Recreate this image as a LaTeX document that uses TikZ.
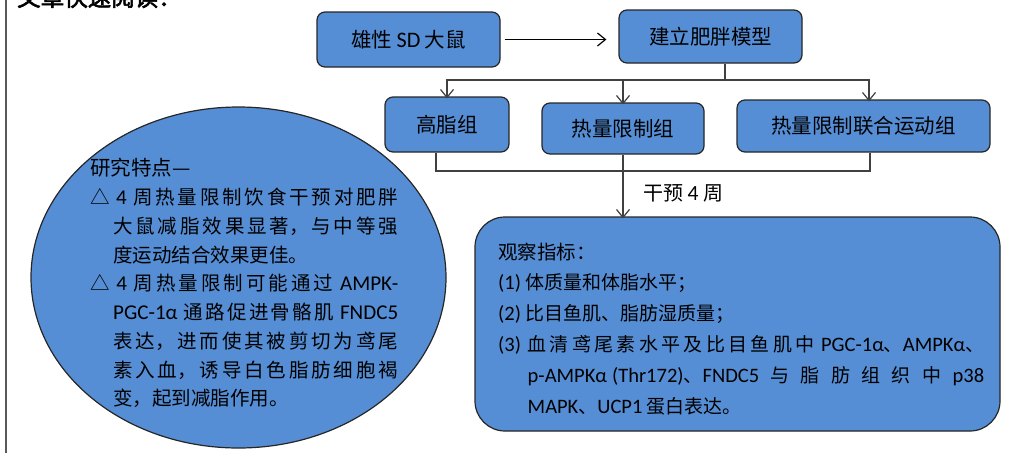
\documentclass[tikz,border=0pt]{standalone}
\usepackage{fontspec}
\setmainfont{Noto Sans CJK SC}
\newfontfamily\latf[Scale=1.08]{Carlito}
\newfontfamily\titlef[FakeBold=2.5]{Noto Sans CJK SC}
\newcommand\Lt[1]{{\latf #1}}
\XeTeXlinebreaklocale "zh"
\XeTeXlinebreakskip=0pt plus 3pt
\usetikzlibrary{arrows.meta,shapes.geometric}
\definecolor{boxblue}{RGB}{85,142,213}
\begin{document}
\begin{tikzpicture}[x=1pt,y=-1pt,
  box/.style={draw=black!85, line width=1.2pt, fill=boxblue, rounded corners=8pt, inner sep=0pt, font=\fontsize{20.5}{24}\selectfont},
  conn/.style={draw=black!75, line width=1.2pt},
  arr/.style={conn, -{Straight Barb[length=8pt,width=13pt]}},
  ln/.style={anchor=base west, inner sep=0pt},
]
\useasboundingbox (0,0) rectangle (1014,453);
\clip (0,0) rectangle (1014,453);

% cut title and frame line
\node[ln, font=\fontsize{23.5}{26}\titlef] (title) at (17,6) {文章快速阅读：};
\draw[conn, draw=black!65] (6,0) -- (6,453);

% boxes
\node[box, minimum width=183pt, minimum height=55pt] (b1) at (408.5,39.5) {雄性 \Lt{SD} 大鼠};
\node[box, minimum width=183pt, minimum height=53pt] (b2) at (710.5,36.5) {建立肥胖模型};
\node[box, minimum width=124pt, minimum height=55pt] (b3) at (447,124.5) {高脂组};
\node[box, minimum width=162pt, minimum height=51pt] (b4) at (623,128.5) {热量限制组};
\node[box, minimum width=253pt, minimum height=52pt] (b5) at (863.5,126) {热量限制联合运动组};
\node[box, rounded corners=30pt, minimum width=525pt, minimum height=214pt] (b6) at (737.5,324) {};
\node[ellipse, draw=black!85, line width=1.2pt, fill=boxblue, minimum width=415pt, minimum height=341pt, inner sep=0pt] (feat) at (238.5,277.5) {};

% connectors
\draw[arr, draw=black] ([xshift=4pt]b1.east) -- ([xshift=-12pt]b1.east -| b2.west);
\coordinate (j) at (725,80);
\draw[conn] (b2.south -| j) -- (j);
\draw[arr] (j) -| ([yshift=-2pt]b3.north);
\draw[arr] (j) -| ([xshift=5.5pt,yshift=-2pt]b5.north);
\draw[arr] (b4.north |- j) -- ([yshift=-2pt]b4.north);
\coordinate (k) at (623,171);
\draw[conn] ([xshift=-11pt]b3.south) |- (k);
\draw[conn] ([xshift=6.5pt]b5.south) |- (k);
\draw[arr] (b4.south) -- ([yshift=-2pt]b6.north -| b4.south);
\node[anchor=west, inner sep=0pt, font=\fontsize{20}{22}\selectfont] (lbl) at (643,193) {干预 \Lt{4} 周};

% ellipse text
\node[ln, font=\fontsize{20.5}{22}\selectfont] (fh) at (90,175.5) {研究特点—};
\node[ln, text width=308pt, align=justify, font=\fontsize{19.5}{28.75}\selectfont] (ft) at (90,204.5) {%
\hangindent=23pt\hangafter=1\noindent △ \Lt{4} 周热量限制饮食干预对肥胖\break 大鼠减脂效果显著，与中等强\break 度运动结合效果更佳。\par
\hangindent=23pt\hangafter=1\noindent △ \Lt{4} 周热量限制可能通过 \Lt{AMPK-}\break \Lt{PGC-1α} 通路促进骨骼肌 \Lt{FNDC5}\break 表达，进而使其被剪切为鸢尾\break 素入血，诱导白色脂肪细胞褐\break 变，起到减脂作用。\par};

% observation text
\node[ln, text width=486pt, align=justify, font=\fontsize{19}{30.8}\selectfont] (ot) at (498,259) {%
\noindent{\fontsize{19.5}{30.8}\selectfont 观察指标：}\par
\hangindent=29.5pt\hangafter=1\noindent\Lt{(1)} 体质量和体脂水平；\par
\hangindent=29.5pt\hangafter=1\noindent\Lt{(2)} 比目鱼肌、脂肪湿质量；\par
\hangindent=29.5pt\hangafter=1\noindent\Lt{(3)} 血清鸢尾素水平及比目鱼肌中 \Lt{PGC-1α}、\Lt{AMPKα}、\break \Lt{p-AMPKα\hspace{5pt}(Thr172)}、\Lt{FNDC5} 与 脂 肪 组 织 中 \Lt{p38}\break \Lt{MAPK}、\Lt{UCP1} 蛋白表达。\par};
\end{tikzpicture}
\end{document}
